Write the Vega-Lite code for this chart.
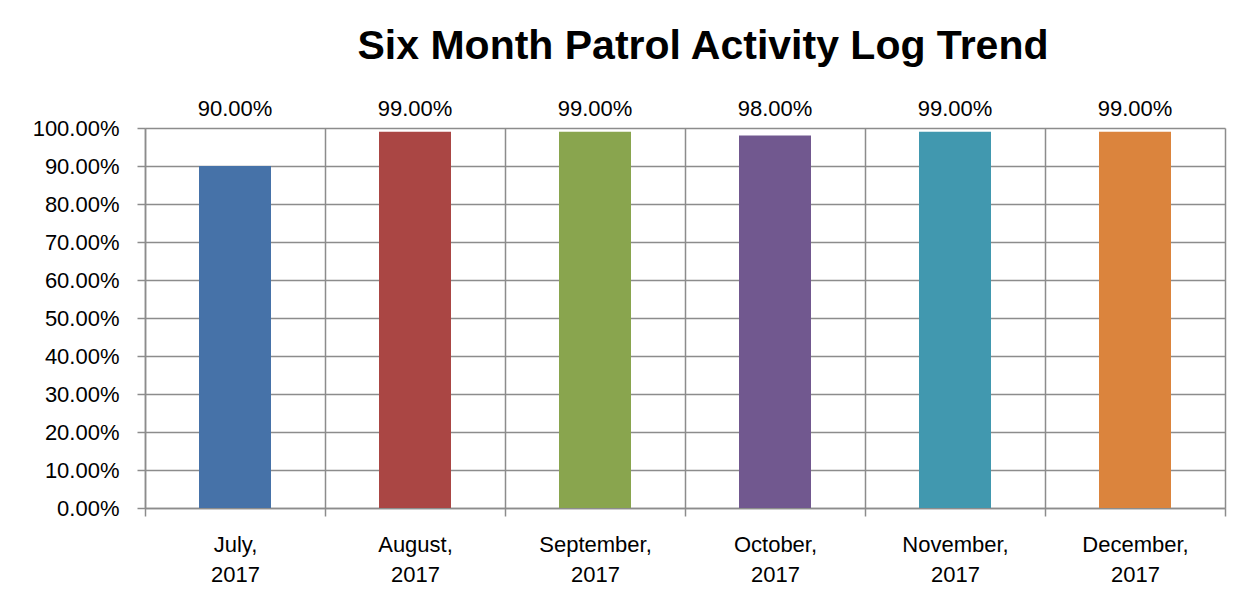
{
  "$schema": "https://vega.github.io/schema/vega-lite/v6.json",
  "width": 1080,
  "height": 380,
  "autosize": {"type": "none"},
  "padding": {"left": 145, "top": 128, "right": 27, "bottom": 103},
  "background": "white",
  "title": {
    "text": "Six Month Patrol Activity Log Trend",
    "font": "Liberation Sans",
    "fontSize": 41,
    "fontWeight": "bold",
    "color": "black",
    "anchor": "middle",
    "dx": 18,
    "offset": 30
  },
  "config": {
    "view": {"stroke": null},
    "font": "Liberation Sans",
    "axisY": {
      "labelOverlap": false,
      "grid": true,
      "gridColor": "#8c8c8c",
      "gridWidth": 1.5,
      "tickColor": "#8c8c8c",
      "tickWidth": 1.5,
      "tickSize": 8,
      "domainColor": "#8c8c8c",
      "domainWidth": 1.5,
      "labelFont": "Liberation Sans",
      "labelFontSize": 22,
      "labelColor": "black",
      "labelPadding": 18
    }
  },
  "data": {
    "values": [
      {"month": "July, 2017", "value": 0.90},
      {"month": "August, 2017", "value": 0.99},
      {"month": "September, 2017", "value": 0.99},
      {"month": "October, 2017", "value": 0.98},
      {"month": "November, 2017", "value": 0.99},
      {"month": "December, 2017", "value": 0.99}
    ]
  },
  "encoding": {
    "x": {
      "field": "month",
      "type": "nominal",
      "sort": null,
      "scale": {"paddingInner": 0, "paddingOuter": 0},
      "axis": {
        "title": null,
        "labelAngle": 0,
        "tickBand": "extent",
        "grid": true,
        "gridColor": "#8c8c8c",
        "gridWidth": 1.5,
        "tickColor": "#8c8c8c",
        "tickWidth": 1.5,
        "tickSize": 8,
        "domainColor": "#8c8c8c",
        "domainWidth": 1.5,
        "labelExpr": "datum.value ? split(datum.value, ' ') : ''",
        "labelFont": "Liberation Sans",
        "labelFontSize": 22,
        "labelLineHeight": 30,
        "labelColor": "black",
        "labelPadding": 18
      }
    }
  },
  "layer": [
    {
      "mark": {"type": "bar", "width": {"band": 0.4}},
      "encoding": {
        "y": {
          "field": "value",
          "type": "quantitative",
          "scale": {"domain": [0, 1], "nice": false},
          "axis": {
            "title": null,
            "format": ".2%",
            "values": [0, 0.1, 0.2, 0.3, 0.4, 0.5, 0.6, 0.7, 0.8, 0.9, 1.0]
          }
        },
        "color": {
          "field": "month",
          "type": "nominal",
          "scale": {
            "domain": ["July, 2017", "August, 2017", "September, 2017", "October, 2017", "November, 2017", "December, 2017"],
            "range": ["#4672A8", "#AA4644", "#89A54E", "#71588F", "#4198AF", "#DB843D"]
          },
          "legend": null
        }
      }
    },
    {
      "mark": {"type": "text", "baseline": "middle", "dy": -19, "fontSize": 22, "font": "Liberation Sans", "color": "black"},
      "encoding": {
        "y": {
          "datum": 1,
          "type": "quantitative",
          "axis": {
            "title": null,
            "format": ".2%",
            "values": [0, 0.1, 0.2, 0.3, 0.4, 0.5, 0.6, 0.7, 0.8, 0.9, 1.0]
          }
        },
        "text": {"field": "value", "type": "quantitative", "format": ".2%"}
      }
    }
  ]
}
